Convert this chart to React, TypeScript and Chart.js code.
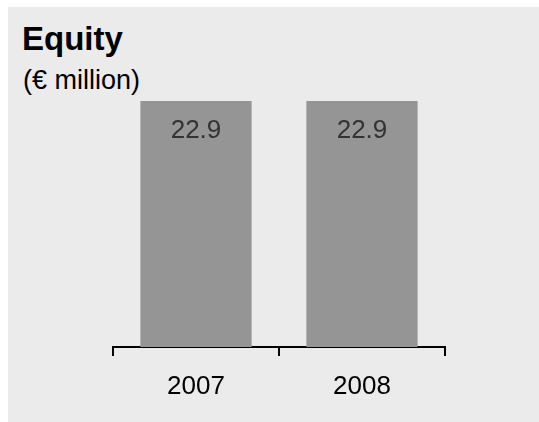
import React, { useEffect, useRef } from "react";
import { Chart, registerables } from "chart.js";

Chart.register(...registerables);

const categories: string[] = ["2007", "2008"];
const equityValues: number[] = [22.9, 22.9];
const titleText = "Equity";
const subtitleText = "(€ million)";

const FONT = "'Liberation Sans', Arial, Helvetica, sans-serif";

const valueLabelPlugin = {
  id: "valueLabels",
  afterDatasetsDraw(chart: any) {
    const ctx = chart.ctx;
    const meta = chart.getDatasetMeta(0);
    ctx.save();
    ctx.font = `26px ${FONT}`;
    ctx.fillStyle = "#333333";
    ctx.textAlign = "center";
    ctx.textBaseline = "alphabetic";
    meta.data.forEach((bar: any, i: number) => {
      const v = chart.data.datasets[0].data[i] as number;
      ctx.fillText(v.toFixed(1), bar.x, bar.y + 37);
    });
    ctx.restore();
  },
};

export default function App() {
  const canvasRef = useRef<HTMLCanvasElement>(null);

  useEffect(() => {
    document.body.style.overflow = "hidden";
    const canvas = canvasRef.current;
    if (!canvas) return;
    const chart = new Chart(canvas, {
      type: "bar",
      data: {
        labels: categories,
        datasets: [
          {
            data: equityValues,
            backgroundColor: "#959595",
            borderWidth: 0,
            barPercentage: 0.67,
            categoryPercentage: 1,
          },
        ],
      },
      options: {
        animation: false,
        responsive: false,
        maintainAspectRatio: false,
        layout: { padding: { left: 105, right: 94, top: 94, bottom: 0 } },
        plugins: {
          legend: { display: false },
          tooltip: { enabled: false },
          title: { display: false },
        },
        scales: {
          x: {
            offset: true,
            grid: {
              offset: true,
              drawOnChartArea: false,
              drawTicks: true,
              tickLength: 9,
              color: "#000000",
              lineWidth: 2,
            },
            border: { display: true, color: "#000000", width: 2 },
            ticks: {
              color: "#000000",
              font: { size: 26, family: FONT },
              padding: 15,
            },
            afterFit: (s: any) => {
              s.height = 75;
            },
          },
          y: { display: false, min: 0, max: 22.9 },
        },
      },
      plugins: [valueLabelPlugin],
    });
    return () => chart.destroy();
  }, []);

  return (
    <div
      style={{
        position: "fixed",
        left: 8,
        top: 7,
        width: 531,
        height: 415,
        background: "#eaebea",
        fontFamily: FONT,
      }}
    >
      <div
        style={{
          position: "absolute",
          left: 14,
          top: 15,
          fontSize: 33,
          lineHeight: "33px",
          fontWeight: "bold",
          color: "#000",
        }}
      >
        {titleText}
      </div>
      <div
        style={{
          position: "absolute",
          left: 15,
          top: 60,
          fontSize: 27,
          lineHeight: "27px",
          color: "#000",
        }}
      >
        {subtitleText}
      </div>
      <canvas
        ref={canvasRef}
        width={531}
        height={415}
        style={{ position: "absolute", left: 0, top: 0, width: 531, height: 415 }}
      />
    </div>
  );
}
